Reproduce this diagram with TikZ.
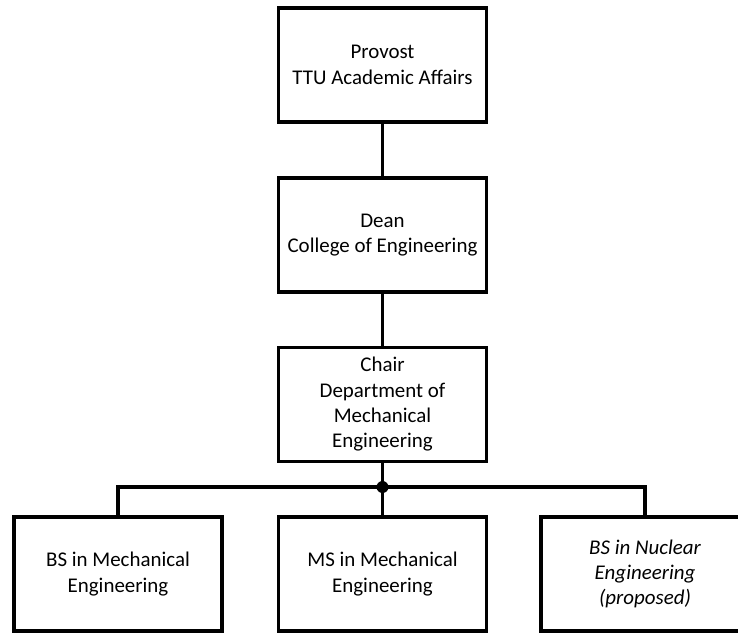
\documentclass[tikz,border=0pt]{standalone}
\usepackage{fontspec}
\setmainfont{Carlito}
\begin{document}
\begin{tikzpicture}[x=0.75pt,y=0.75pt,yscale=-1,xscale=1,
  orgbox/.style={draw,line width=2.3pt,minimum width=156pt,minimum height=85.5pt,align=center,font=\fontsize{15.7}{19}\selectfont},
  link/.style={line width=2.3pt}]
%set diagram to the size of the page
\useasboundingbox (0,0) rectangle (738,633);
\clip (0,0) rectangle (738,633);

%Shape: Rectangle [provost]
\node [orgbox] (provost) at (382.5,65) {Provost\\TTU Academic Affairs};
%Shape: Rectangle [dean]
\node [orgbox] (dean) at (382.5,235) {Dean\\College of Engineering};
%Shape: Rectangle [chair]
\node [orgbox] (chair) at (382.5,404.5) {Chair\\Department of\\Mechanical\\Engineering};
%Shape: Rectangle [bsme]
\node [orgbox] (bsme) at (118,574) {BS in Mechanical\\Engineering};
%Shape: Rectangle [msme]
\node [orgbox] (msme) at (382.5,574) {MS in Mechanical\\Engineering};
%Shape: Rectangle [bsne]
\node [orgbox,font=\fontsize{15.7}{19}\selectfont\itshape] (bsne) at (645,574) {BS in Nuclear\\Engineering\\(proposed)};

%Junction dot
\coordinate (split) at (382.5,487);
\fill (split) circle (6);

%Straight Lines
\draw [link] (provost.south) -- (dean.north);
\draw [link] (dean.south) -- (chair.north);
\draw [link] (chair.south) -- (split);
\draw [link] (split) -- (msme.north);
\draw [link] (split) -| (bsme.north);
\draw [link] (split) -| (bsne.north);

\end{tikzpicture}
\end{document}
